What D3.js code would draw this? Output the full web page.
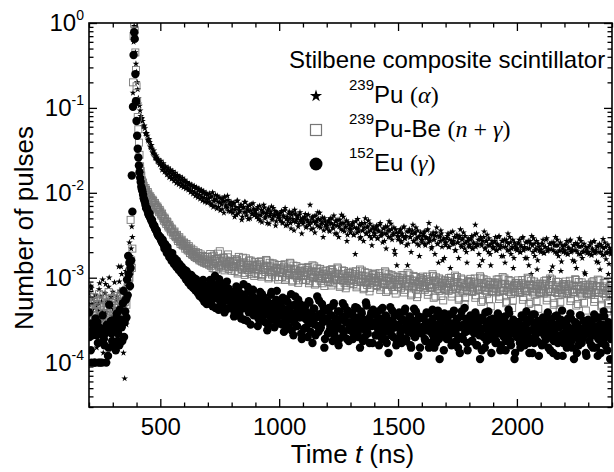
<!DOCTYPE html>
<html>
<head>
<meta charset="utf-8">
<script src="https://cdn.jsdelivr.net/npm/d3@7"></script>
<style>
    body { margin: 0; background: #fff; }
    svg text { font-family: "Liberation Sans", Arial, sans-serif; fill: #000; }
    .serif { font-family: "Liberation Serif", "Times New Roman", serif; }
</style>
</head>
<body>
<svg id="chart" width="614" height="472"></svg>
<script>
// number of pulses in units of 1e-4.
// 2.5 ns bins, kept as two interleaved arrays per source:
// bins starting at 200 ns ("A") and bins starting at 202.5 ns ("B")
const UNIT = 1e-4;
const timesA = d3.range(200, 2401, 5);
const timesB = d3.range(202.5, 2400, 5);

const puAlphaA = [
    6.5, 3.0, 7.5, 4.2, 5.0, 2.4, 4.6, 3.6, 5.0, 8.6, 6.0, 4.0, 1.3, 3.3, 8.4, 5.5, 3.0, 10, 4.5, 2.6,
    6.8, 3.8, 1.8, 5.4, 4.4, 13.5, 7.0, 13.5, 5.6, 1.3, 0.65, 12, 8.0, 14, 26, 18, 40, 1500, 9200, 4500,
    2650, 1650, 1120, 930, 740, 700, 600, 575, 495, 470, 410, 395, 340, 330, 290, 288, 255, 258, 232, 230,
    222, 205, 210, 193, 196, 178, 186, 168, 176, 158, 166, 150, 160, 143, 153, 138, 148, 132, 141, 126,
    136, 121, 130, 115, 124, 110, 120, 105, 116, 101, 112, 98, 107, 94, 103, 90, 99, 87, 96, 84,
    95, 79, 88, 72, 101, 80, 70, 84, 92, 68, 77, 86, 64, 79, 90, 71, 66, 82, 75, 60,
    70, 58, 76, 63, 55, 81, 66, 60, 72, 52, 68, 78, 59, 64, 49, 71, 62, 57, 75, 54,
    61, 52, 68, 55, 47, 63, 58, 72, 50, 56, 44, 65, 53, 60, 48, 66, 55, 41, 59, 51,
    56, 47, 61, 44, 52, 66, 49, 42, 57, 50, 38, 59, 46, 63, 45, 53, 40, 55, 48, 33,
    43, 50, 56, 40, 47, 44, 72, 37, 52, 46, 34, 54, 41, 49, 58, 39, 45, 30, 50, 42,
    38, 45, 36, 50, 43, 39, 54, 33, 47, 41, 30, 48, 37, 44, 52, 35, 40, 27, 45, 38,
    34, 41, 45, 32, 19, 38, 49, 35, 29, 42, 36, 27, 44, 33, 39, 47, 31, 36, 24, 40,
    31, 37, 41, 29, 35, 44, 32, 26, 38, 33, 22, 40, 30, 36, 43, 28, 33, 21, 37, 14,
    28, 34, 37, 26, 31, 40, 29, 24, 14, 35, 30, 20, 36, 27, 33, 39, 25, 30, 18, 34,
    26, 31, 35, 24, 29, 37, 44, 27, 22, 32, 28, 19, 34, 25, 15, 30, 36, 23, 28, 17,
    24, 29, 33, 23, 13, 27, 35, 25, 21, 30, 26, 17, 31, 24, 28, 34, 22, 26, 15, 29,
    23, 28, 31, 22, 25, 42, 33, 24, 19, 28, 25, 16, 30, 22, 27, 32, 20, 24, 14, 27,
    22, 26, 30, 21, 24, 31, 23, 18, 27, 23, 15, 28, 21, 25, 30, 19, 23, 13, 26, 22,
    21, 25, 28, 20, 23, 30, 22, 17, 26, 22, 14, 27, 11, 24, 29, 18, 22, 12.5, 25, 21,
    20, 25, 28, 19.5, 23, 29, 21, 10, 25, 21.5, 13.5, 26, 20, 24, 28, 18, 21, 12, 24, 20,
    24, 19.5, 27, 19, 22, 28, 20.5, 16, 24, 21, 13, 25, 19, 23, 27, 17, 20.5, 11.5, 23, 19.5,
    23, 19, 26, 18.5, 21, 27, 20, 15.5, 23, 20, 12.5, 24, 18.5, 22, 26, 16.5, 20, 11, 22.5, 19,
    21
];
const puAlphaB = [
    4.8, 8.0, 2.9, 5.6, 3.4, 6.2, 1.5, 4.1, 7.3, 3.0, 5.2, 9.5, 2.2, 6.6, 3.9, 4.9, 7.8, 2.5, 5.9, 3.5,
    4.3, 8.8, 3.1, 6.0, 2.0, 9.0, 4.7, 11, 3.4, 7.4, 5.0, 2.8, 10.5, 6.2, 16, 22, 30, 6000, 7000, 3300,
    2000, 1300, 1060, 800, 760, 610, 620, 500, 505, 420, 430, 350, 365, 300, 315, 262, 275, 238, 248, 214,
    238, 186, 222, 176, 205, 164, 198, 152, 188, 146, 180, 138, 172, 130, 162, 126, 156, 120, 150, 116,
    142, 112, 134, 108, 128, 102, 124, 97, 120, 92, 116, 88, 112, 85, 108, 81, 104, 78, 100, 76,
    86, 98, 74, 91, 68, 83, 94, 65, 78, 88, 62, 73, 85, 58, 80, 69, 92, 61, 72, 78,
    64, 74, 52, 68, 80, 57, 62, 71, 48, 66, 59, 77, 54, 69, 61, 50, 73, 56, 65, 60,
    57, 64, 49, 70, 54, 45, 60, 67, 52, 58, 62, 43, 56, 69, 50, 54, 61, 46, 57, 53,
    50, 58, 45, 54, 62, 41, 52, 47, 60, 44, 55, 49, 36, 57, 48, 51, 43, 59, 46, 50,
    46, 52, 39, 48, 55, 42, 45, 50, 38, 53, 44, 47, 59, 40, 48, 43, 51, 36, 46, 41,
    41, 47, 35, 44, 50, 38, 42, 46, 33, 48, 40, 43, 55, 36, 44, 39, 47, 32, 42, 37,
    37, 43, 32, 39, 46, 34, 38, 42, 30, 44, 36, 39, 50, 33, 40, 35, 43, 29, 38, 34,
    33, 39, 29, 36, 42, 31, 34, 38, 27, 40, 33, 36, 46, 30, 37, 32, 39, 19, 34, 31,
    30, 36, 27, 33, 39, 29, 31, 35, 25, 37, 30, 33, 42, 27, 34, 29, 36, 24, 31, 28,
    28, 33, 25, 30, 36, 26, 29, 32, 23, 34, 28, 31, 39, 25, 31, 27, 33, 16, 29, 26,
    26, 31, 23, 28, 34, 25, 27, 30, 21, 32, 26, 29, 37, 23, 29, 25, 31, 20, 27, 24,
    24.5, 29, 22, 26, 32, 23, 25, 28, 14, 30, 24, 27, 35, 22, 27, 24, 29, 19, 25, 23,
    23, 27, 21, 25, 30, 22, 24, 27, 18, 28, 23, 26, 33, 21, 26, 22, 28, 17, 24, 22,
    22, 26, 20, 24, 29, 21, 23, 26, 17, 27, 22, 25, 31, 20, 25, 21, 27, 16, 23, 21,
    21.5, 25, 19.5, 23, 28, 20.5, 22, 25, 12, 26, 21, 24, 30, 19.5, 24, 20.5, 26, 15.5, 22, 20.5,
    21, 24.5, 19, 22.5, 27, 20, 21.5, 24, 15.5, 25.5, 20.5, 23.5, 29, 19, 23.5, 20, 25, 11, 21.5, 20,
    20, 24, 18.5, 22, 26.5, 19.5, 21, 23.5, 15, 25, 20, 23, 28.5, 18.5, 23, 19.5, 24.5, 14.5, 21, 19.5
];

const puBeA = [
    4.5, 6.0, 3.2, 4.0, 5.2, 2.8, 3.6, 4.8, 3.0, 5.5, 4.2, 3.4, 6.2, 3.8, 2.9, 4.6, 5.0, 3.3, 4.1, 5.8,
    3.6, 4.4, 2.7, 5.3, 3.9, 4.7, 3.1, 6.5, 4.3, 5.0, 3.5, 7.2, 6.0, 8.5, 10, 48, 13, 2000, 9800, 4500,
    1800, 780, 390, 205, 160, 126, 121, 106, 108, 94, 96, 85, 87, 78, 80, 71, 72, 65, 66, 59,
    60, 54, 53, 47, 49, 43, 45, 39, 40, 35, 37, 32, 35, 30, 32, 27, 30, 25, 28, 24,
    26, 22, 25, 21, 23.5, 19.5, 22, 18.5, 21, 17.5, 20, 17, 19.5, 16, 18.8, 15.5, 18, 15, 17.6, 14.6,
    17.5, 14.2, 19.0, 15.1, 13.0, 18.2, 15.9, 12.5, 16.8, 14.0, 20.5, 13.6, 15.4, 17.3, 12.2, 16.0, 14.6, 18.8, 13.3, 15.7,
    12.1, 14.8, 13.4, 16.5, 15.7, 11.2, 17.6, 13.9, 14.3, 12.4, 15.2, 10.8, 16.9, 13.0, 14.1, 11.7, 15.9, 12.8, 13.6, 10.5,
    11.4, 13.9, 12.2, 15.3, 14.6, 10.3, 11.0, 12.9, 12.5, 16.2, 13.8, 9.8, 15.0, 11.7, 10.9, 13.2, 14.4, 12.0, 12.7, 9.5,
    10.2, 12.6, 14.1, 11.3, 13.5, 9.4, 10.6, 11.9, 11.0, 15.0, 12.8, 9.0, 13.9, 10.8, 12.2, 10.0, 8.7, 11.5, 10.4, 13.2,
    9.5, 11.6, 10.5, 13.0, 12.4, 8.6, 9.8, 10.9, 14.0, 10.2, 8.3, 11.8, 12.9, 9.9, 11.2, 9.2, 10.6, 12.1, 8.0, 9.7,
    10.9, 9.0, 9.8, 12.3, 8.1, 11.7, 9.3, 10.3, 9.6, 13.2, 11.1, 7.8, 9.4, 12.2, 10.6, 8.7, 7.5, 10.0, 11.5, 9.2,
    8.6, 10.4, 11.8, 9.4, 11.1, 7.7, 8.9, 9.8, 12.5, 9.1, 10.6, 7.3, 11.6, 8.9, 8.2, 10.1, 6.9, 9.5, 8.7, 11.0,
    9.9, 11.2, 8.2, 8.9, 10.5, 7.2, 9.3, 8.4, 8.6, 11.9, 6.8, 10.1, 11.0, 8.5, 9.6, 7.8, 10.4, 9.0, 6.5, 8.3,
    7.8, 9.4, 8.4, 10.7, 10.0, 6.7, 7.9, 8.8, 11.4, 8.1, 9.6, 6.2, 8.0, 10.5, 9.1, 7.3, 5.9, 8.5, 7.7, 9.9,
    9.1, 10.3, 7.5, 8.0, 9.6, 6.3, 8.4, 7.6, 7.8, 11.0, 5.8, 9.3, 10.1, 7.7, 8.8, 7.0, 9.5, 8.1, 5.4, 7.3,
    7.2, 8.7, 7.7, 9.9, 9.2, 6.0, 7.3, 8.1, 10.6, 7.5, 8.9, 5.5, 7.4, 9.8, 8.5, 6.7, 4.9, 7.8, 7.0, 9.1,
    8.6, 9.7, 7.0, 7.5, 9.0, 5.8, 7.9, 7.2, 7.3, 10.4, 5.2, 8.7, 9.6, 7.2, 8.3, 6.5, 8.9, 7.6, 4.6, 6.9,
    6.9, 8.4, 7.4, 9.5, 8.8, 5.6, 7.0, 7.7, 10.2, 7.1, 8.5, 5.0, 7.1, 9.4, 8.1, 6.4, 4.4, 7.5, 6.8, 8.7,
    8.2, 9.3, 6.8, 7.2, 8.6, 5.5, 7.6, 6.9, 7.0, 10.0, 4.9, 8.3, 9.2, 6.9, 8.0, 6.3, 8.5, 7.3, 4.3, 6.6,
    6.7, 8.1, 7.1, 9.1, 8.5, 5.4, 6.8, 7.4, 9.8, 6.9, 8.2, 4.8, 6.8, 9.0, 7.8, 6.2, 4.2, 7.2, 6.5, 8.3,
    8.0, 9.0, 6.6, 7.0, 8.3, 5.3, 7.3, 6.7, 6.8, 9.6, 4.7, 8.0, 8.9, 6.7, 7.7, 6.1, 8.2, 7.1, 4.1, 6.4,
    6.5, 7.9, 6.9, 8.8, 8.2, 5.2, 6.6, 7.2, 9.5, 6.7, 7.9, 4.6, 6.6, 8.7, 7.6, 6.0, 4.0, 7.0, 6.3, 8.1,
    7.1
];
const puBeB = [
    3.7, 5.1, 4.4, 2.6, 5.9, 3.5, 4.9, 3.1, 6.4, 4.0, 3.3, 5.4, 4.6, 2.9, 5.0, 3.8, 6.8, 4.3, 3.0, 5.6,
    4.1, 5.7, 3.3, 6.1, 4.5, 3.7, 5.9, 4.0, 6.9, 3.4, 5.2, 4.8, 7.8, 9.2, 12, 16, 22, 7000, 8200, 2800,
    1200, 560, 280, 180, 140, 132, 112, 114, 99, 102, 90, 91, 82, 83, 75, 76, 68, 69, 62, 63,
    56, 57, 50, 51, 45, 46, 41, 42, 37, 38, 34, 34, 31, 31.5, 28.5, 29, 26.5, 27, 24.5, 25.5,
    23.5, 24, 22, 22.5, 20.5, 21, 19, 20, 18, 19, 17, 18, 16.5, 17.4, 15.8, 16.8, 15.2, 16.4, 14.8, 16.0,
    15.2, 16.4, 13.8, 17.8, 14.5, 12.8, 16.6, 15.0, 19.2, 13.5, 15.8, 14.2, 12.9, 16.9, 14.8, 13.6, 17.4, 12.7, 15.3, 14.0,
    13.7, 15.5, 12.0, 14.4, 16.3, 11.6, 13.2, 15.0, 12.7, 17.2, 13.5, 11.4, 14.7, 12.3, 16.0, 13.1, 11.0, 14.2, 12.5, 15.4,
    12.6, 14.2, 11.0, 13.4, 15.6, 10.7, 12.3, 13.9, 11.7, 15.9, 12.4, 10.2, 13.6, 11.5, 14.8, 12.1, 10.1, 13.0, 11.6, 14.1,
    11.6, 13.1, 10.2, 12.4, 14.4, 9.8, 11.4, 12.8, 10.8, 14.7, 11.5, 9.3, 12.6, 10.6, 13.7, 11.2, 9.3, 12.0, 10.7, 13.0,
    10.7, 12.2, 9.4, 11.5, 13.4, 9.1, 10.6, 11.9, 10.0, 13.6, 10.7, 8.6, 11.7, 9.8, 12.7, 10.4, 8.6, 11.1, 9.9, 12.1,
    10.1, 11.5, 8.9, 10.8, 12.6, 8.6, 10.0, 11.2, 9.4, 12.8, 10.1, 8.1, 11.0, 9.2, 12.0, 9.8, 8.1, 10.5, 9.3, 11.4,
    9.6, 10.9, 8.4, 10.3, 11.9, 8.1, 9.5, 10.6, 8.9, 12.1, 9.6, 7.6, 10.4, 8.7, 11.4, 9.3, 7.6, 9.9, 8.8, 10.8,
    9.1, 10.3, 8.0, 9.8, 11.3, 7.7, 9.0, 10.0, 8.4, 11.5, 9.1, 7.1, 9.9, 8.2, 10.8, 8.8, 7.1, 9.4, 8.3, 10.2,
    8.5, 9.8, 7.5, 9.2, 10.7, 7.2, 8.4, 9.5, 7.9, 10.9, 8.6, 6.5, 9.3, 7.7, 10.2, 8.3, 6.4, 8.9, 7.8, 9.7,
    8.2, 9.4, 7.2, 8.9, 10.3, 6.8, 8.1, 9.1, 7.6, 10.5, 8.3, 6.0, 9.0, 7.4, 9.8, 8.0, 6.1, 8.6, 7.5, 9.3,
    7.9, 9.1, 7.0, 8.6, 10.0, 6.5, 7.8, 8.8, 7.3, 10.2, 8.0, 5.7, 8.7, 7.1, 9.5, 7.7, 5.8, 8.3, 7.2, 9.0,
    7.8, 8.9, 6.8, 8.4, 9.8, 6.2, 7.7, 8.6, 7.2, 10.0, 7.8, 5.4, 8.5, 7.0, 9.3, 7.6, 5.6, 8.2, 7.0, 8.8,
    7.6, 8.7, 6.7, 8.2, 9.6, 6.0, 7.5, 8.4, 7.0, 9.8, 7.6, 5.2, 8.3, 6.8, 9.1, 7.4, 5.4, 8.0, 6.9, 8.6,
    7.5, 8.6, 6.6, 8.1, 9.4, 5.9, 7.4, 8.3, 6.9, 9.7, 7.5, 5.1, 8.2, 6.7, 9.0, 7.3, 5.3, 7.9, 6.8, 8.5,
    7.4, 8.5, 6.5, 8.0, 9.3, 5.8, 7.3, 8.2, 6.8, 9.5, 7.4, 5.0, 8.1, 6.6, 8.9, 7.2, 5.2, 7.8, 6.7, 8.4,
    7.3, 8.4, 6.4, 7.9, 9.2, 5.7, 7.2, 8.1, 6.7, 9.4, 7.3, 4.9, 8.0, 6.5, 8.8, 7.1, 5.1, 7.7, 6.6, 8.3,
    7.2, 8.3, 6.3, 7.8, 9.1, 5.6, 7.1, 8.0, 6.6, 9.3, 7.2, 4.8, 7.9, 6.4, 8.7, 7.0, 5.0, 7.6, 6.5, 8.2
];

const eu152A = [
    3.9, 2.3, 1.0, 2.1, 2.6, 1.0, 2.4, 3.0, 1.0, 2.2, 2.5, 1.0, 2.1, 1.6, 2.3, 2.8, 1.2, 4.8, 2.6, 2.2,
    3.1, 1.6, 2.7, 3.4, 1.8, 2.5, 4.2, 3.0, 1.8, 7.0, 3.0, 5.5, 9.5, 18, 15, 13, 160, 1030, 7800, 2500,
    700, 330, 210, 150, 118, 104, 86, 78, 66, 64, 56, 57, 49, 48, 42, 41, 37, 36, 32, 31,
    30, 27, 28, 24, 25, 21, 23, 19, 20, 17, 19.5, 16, 17, 14, 16, 13, 14.5, 12, 13.5, 11,
    12.5, 10.5, 12, 9.8, 11, 8.6, 10.8, 8.2, 10.0, 7.4, 9.6, 6.9, 9.0, 6.1, 8.5, 5.8, 9.4, 5.2, 7.8, 4.9,
    8.1, 5.2, 9.4, 6.6, 4.6, 7.3, 10.5, 5.8, 6.9, 4.2, 8.6, 6.1, 5.0, 7.8, 3.9, 6.4, 9.0, 5.4, 6.0, 4.5,
    6.2, 4.3, 3.5, 5.6, 7.9, 4.0, 5.1, 6.6, 3.3, 4.8, 8.4, 4.4, 5.7, 3.1, 6.9, 4.6, 2.8, 5.2, 7.2, 4.1,
    5.4, 3.6, 2.7, 4.7, 6.8, 3.4, 4.2, 5.9, 3.0, 4.5, 2.4, 5.1, 3.8, 6.3, 3.2, 4.9, 2.6, 4.0, 7.0, 3.5,
    4.6, 2.9, 3.6, 5.8, 2.3, 4.1, 3.1, 5.2, 2.6, 4.4, 6.4, 3.3, 2.1, 4.8, 3.8, 2.7, 5.5, 3.4, 4.0, 1.9,
    3.9, 2.5, 4.7, 3.2, 2.0, 5.3, 2.9, 3.6, 1.7, 4.3, 2.8, 3.4, 6.0, 2.3, 3.7, 2.6, 4.9, 3.0, 1.5, 4.1,
    3.3, 2.2, 4.4, 2.7, 3.6, 1.8, 5.0, 2.4, 3.1, 2.9, 1.6, 4.0, 2.5, 3.4, 2.1, 4.6, 3.0, 1.9, 3.8, 2.6,
    2.4, 3.7, 1.9, 3.1, 4.5, 2.6, 2.2, 3.4, 1.5, 4.0, 2.8, 3.2, 2.0, 5.1, 2.5, 3.0, 1.7, 3.6, 2.7, 4.2,
    3.0, 2.1, 3.8, 2.5, 1.6, 3.3, 2.9, 4.4, 2.3, 1.9, 3.5, 2.7, 1.3, 3.1, 2.4, 4.1, 2.0, 3.6, 2.6, 1.8,
    2.8, 3.9, 2.2, 1.7, 3.2, 2.5, 4.3, 1.9, 2.9, 2.3, 3.5, 1.5, 2.7, 3.1, 2.0, 4.0, 2.4, 1.2, 3.3, 2.6,
    2.2, 3.4, 2.7, 1.8, 3.9, 2.4, 1.5, 3.0, 2.5, 4.2, 2.0, 2.8, 1.7, 3.6, 2.3, 1.1, 3.2, 2.6, 2.1, 3.8,
    3.1, 1.9, 2.6, 3.7, 2.2, 1.6, 2.9, 4.1, 2.4, 1.8, 3.3, 2.7, 1.3, 3.5, 2.0, 2.8, 4.4, 2.3, 1.7, 3.0,
    2.5, 3.6, 1.8, 2.9, 2.2, 3.9, 1.6, 2.7, 3.2, 1.1, 2.4, 3.4, 2.0, 1.5, 3.0, 2.6, 4.0, 1.9, 2.8, 2.3,
    3.3, 2.1, 1.7, 2.8, 3.8, 2.4, 1.4, 3.1, 2.6, 2.0, 3.5, 1.8, 2.9, 4.2, 2.2, 1.6, 2.7, 3.2, 1.1, 2.5,
    2.0, 3.0, 2.6, 1.5, 3.6, 2.3, 1.9, 2.8, 4.0, 2.1, 1.7, 3.3, 2.4, 1.3, 2.9, 3.7, 2.2, 1.8, 2.7, 3.1,
    2.4, 1.6, 3.4, 2.1, 2.8, 1.9, 3.9, 2.5, 1.4, 3.0, 2.2, 1.8, 3.5, 2.6, 1.2, 2.9, 2.0, 3.2, 4.1, 1.7,
    2.7, 2.0, 1.5, 3.3, 2.3, 3.8, 1.8, 2.5, 1.1, 3.0, 2.1, 2.8, 1.6, 3.6, 2.4, 1.9, 3.1, 2.2, 1.3, 2.6,
    3.2, 1.8, 2.5, 2.9, 1.5, 3.7, 2.1, 2.6, 1.2, 3.4, 2.3, 1.7, 2.8, 4.0, 2.0, 2.4, 1.4, 3.0, 2.2, 1.9,
    2.5
];
const eu152B = [
    2.0, 1.4, 2.9, 2.3, 1.0, 3.3, 2.1, 1.7, 2.6, 1.0, 2.4, 3.6, 1.9, 2.2, 1.0, 2.7, 1.5, 2.3, 3.1, 1.8,
    2.4, 2.9, 1.4, 3.8, 2.2, 1.6, 3.2, 2.6, 5.0, 2.0, 4.0, 3.4, 6.2, 11, 8.0, 16, 60, 4200, 6500, 1200,
    470, 260, 175, 134, 110, 95, 82, 72, 66, 60, 54, 51, 47, 44, 41, 38, 36, 33, 31, 30,
    28, 26, 25, 22, 22, 19.5, 20, 17.5, 18, 15.8, 16.5, 14.5, 15, 13.4, 14, 12.3, 12.8, 11.4, 12, 10.6,
    11.3, 9.6, 10.6, 8.8, 10.0, 8.1, 9.5, 7.6, 8.9, 7.1, 8.4, 6.6, 8.0, 6.2, 7.6, 5.7, 7.2, 5.4, 6.9, 5.1,
    6.3, 7.7, 4.9, 8.8, 5.6, 6.9, 4.4, 7.9, 5.9, 9.6, 5.1, 6.7, 4.7, 8.2, 5.7, 6.2, 4.3, 7.4, 5.3, 6.5,
    5.0, 6.8, 3.9, 5.9, 4.6, 7.5, 3.7, 5.4, 4.3, 6.3, 3.2, 5.3, 4.7, 7.8, 3.9, 5.6, 4.4, 6.1, 3.6, 5.0,
    4.3, 5.7, 3.3, 5.0, 3.9, 6.4, 3.1, 4.6, 3.7, 5.3, 2.8, 4.4, 3.5, 6.8, 3.3, 4.8, 3.9, 5.5, 2.9, 4.2,
    3.7, 5.0, 2.8, 4.3, 3.4, 5.6, 2.5, 3.9, 3.2, 4.7, 2.4, 3.8, 3.0, 6.0, 2.7, 4.2, 3.5, 4.9, 2.2, 3.6,
    3.4, 4.5, 2.6, 3.9, 3.1, 5.1, 2.3, 3.5, 2.9, 4.3, 2.1, 3.5, 2.7, 5.4, 2.5, 3.8, 3.2, 4.4, 1.9, 3.3,
    3.1, 4.2, 2.4, 3.6, 2.9, 4.7, 2.1, 3.3, 2.7, 4.0, 1.9, 3.2, 2.5, 5.0, 2.3, 3.5, 3.0, 4.1, 1.8, 3.0,
    2.9, 3.9, 2.2, 3.4, 2.7, 4.4, 2.0, 3.1, 2.5, 3.8, 1.8, 3.0, 2.4, 4.7, 2.2, 3.3, 2.8, 3.9, 1.7, 2.9,
    2.8, 3.7, 2.1, 3.2, 2.6, 4.2, 1.9, 2.9, 2.4, 3.6, 1.7, 2.9, 2.3, 4.5, 2.1, 3.1, 2.6, 3.7, 1.6, 2.7,
    2.6, 3.5, 2.0, 3.1, 2.5, 4.0, 1.8, 2.8, 2.3, 3.4, 1.6, 2.7, 2.2, 4.3, 2.0, 3.0, 2.5, 3.5, 1.5, 2.6,
    2.5, 3.4, 1.9, 3.0, 2.4, 3.8, 1.7, 2.7, 2.2, 3.3, 1.5, 2.6, 2.1, 4.1, 1.9, 2.9, 2.4, 3.4, 1.4, 2.5,
    2.5, 3.3, 1.9, 2.9, 2.3, 3.7, 1.7, 2.6, 2.2, 3.2, 1.5, 2.6, 2.0, 4.0, 1.9, 2.8, 2.3, 3.3, 1.4, 2.4,
    2.4, 3.2, 1.8, 2.8, 2.3, 3.6, 1.6, 2.6, 2.1, 3.1, 1.4, 2.5, 2.0, 3.9, 1.8, 2.7, 2.3, 3.2, 1.3, 2.4,
    2.4, 3.1, 1.8, 2.8, 2.2, 3.5, 1.6, 2.5, 2.1, 3.0, 1.4, 2.4, 1.9, 3.8, 1.8, 2.7, 2.2, 3.1, 1.3, 2.3,
    2.3, 3.0, 1.7, 2.7, 2.2, 3.4, 1.6, 2.5, 2.0, 3.0, 1.3, 2.4, 1.9, 3.7, 1.7, 2.6, 2.2, 3.1, 1.2, 2.3,
    2.3, 3.0, 1.7, 2.6, 2.1, 3.4, 1.5, 2.4, 2.0, 2.9, 1.3, 2.3, 1.9, 3.6, 1.7, 2.6, 2.1, 3.0, 1.2, 2.2,
    2.2, 2.9, 1.7, 2.6, 2.1, 3.3, 1.5, 2.4, 2.0, 2.9, 1.3, 2.3, 1.8, 3.6, 1.7, 2.5, 2.1, 3.0, 1.2, 2.2,
    2.2, 2.9, 1.6, 2.5, 2.1, 3.3, 1.5, 2.4, 1.9, 2.8, 1.3, 2.3, 1.8, 3.5, 1.6, 2.5, 2.1, 2.9, 1.1, 2.2
];

const xTicks = [500, 1000, 1500, 2000];
const yTicks = [1, 1e-1, 1e-2, 1e-3, 1e-4];
const legendTitle = 'Stilbene composite scintillator';
// rich-text legend labels: [style, text]
const legendLabels = [
    [['sup', '239'], ['sans', 'Pu '], ['serif', '('], ['it', 'α'], ['serif', ')']],
    [['sup', '239'], ['sans', 'Pu-Be '], ['serif', '('], ['it', 'n'], ['serif', ' + '], ['it', 'γ'], ['serif', ')']],
    [['sup', '152'], ['sans', 'Eu '], ['serif', '('], ['it', 'γ'], ['serif', ')']],
];

const WIDTH = 614;
const HEIGHT = 472;
const MARGIN = { top: 23, right: 2, bottom: 65, left: 89 };
const LEFT = MARGIN.left;
const RIGHT = WIDTH - MARGIN.right;
const TOP = MARGIN.top;
const BOTTOM = HEIGHT - MARGIN.bottom;

const svg = d3.select('#chart');

const xCoord = d3.scaleLinear().domain([200, 2400]).range([LEFT, RIGHT]);
const yCoord = d3.scaleLog().domain([3e-5, 1]).range([BOTTOM, TOP]);

const merge = (a, b) => [...d3.zip(timesA, a), ...d3.zip(timesB, b)];
const puAlpha = merge(puAlphaA, puAlphaB);
const puBe = merge(puBeA, puBeB);
const eu152 = merge(eu152A, eu152B);

const xMinor = d3.range(200, 2401, 100).filter(v => v % 500 !== 0);
const yMinor = [];
[-5, -4, -3, -2, -1].forEach(p => {
    for (let k = 2; k <= 9; k++) {
        const v = k * Math.pow(10, p);
        if (v >= 3e-5 && v <= 1) yMinor.push(v);
    }
});

svg.append('defs')
    .append('clipPath')
    .attr('id', 'plot-clip')
    .append('rect')
    .attr('x', LEFT)
    .attr('y', TOP)
    .attr('width', RIGHT - LEFT)
    .attr('height', BOTTOM - TOP);

// data
const plot = svg.append('g').attr('clip-path', 'url(#plot-clip)');
const starPath = d3.symbol().type(d3.symbolStar).size(14)();

plot.append('g')
    .selectAll('path')
    .data(puAlpha)
    .join('path')
    .attr('d', starPath)
    .attr('transform', d => `translate(${xCoord(d[0])},${yCoord(d[1] * UNIT)})`)
    .attr('fill', '#000');

plot.append('g')
    .selectAll('rect')
    .data(puBe)
    .join('rect')
    .attr('x', d => xCoord(d[0]) - 3.5)
    .attr('y', d => yCoord(d[1] * UNIT) - 3.5)
    .attr('width', 7)
    .attr('height', 7)
    .attr('fill', 'none')
    .attr('stroke', '#7a7a7a')
    .attr('stroke-width', 0.9);

plot.append('g')
    .selectAll('circle')
    .data(eu152)
    .join('circle')
    .attr('cx', d => xCoord(d[0]))
    .attr('cy', d => yCoord(d[1] * UNIT))
    .attr('r', 4.2)
    .attr('fill', '#000');

// axes, ticks pointing inwards on all four sides
const styleAxis = g => {
    g.select('.domain').remove();
    g.selectAll('line').attr('stroke', '#000').attr('stroke-width', 1.3);
};

svg.append('g')
    .attr('transform', `translate(0, ${BOTTOM})`)
    .call(d3.axisBottom(xCoord).tickValues(xTicks).tickFormat(d3.format('d'))
        .tickSize(-8).tickPadding(11).tickSizeOuter(0))
    .call(styleAxis)
    .selectAll('text')
    .attr('font-size', 24);

svg.append('g')
    .attr('transform', `translate(0, ${BOTTOM})`)
    .call(d3.axisBottom(xCoord).tickValues(xMinor).tickSize(-4.5).tickFormat('').tickSizeOuter(0))
    .call(styleAxis);

svg.append('g')
    .attr('transform', `translate(0, ${TOP})`)
    .call(d3.axisTop(xCoord).tickValues(xTicks).tickSize(-8).tickFormat('').tickSizeOuter(0))
    .call(styleAxis);

svg.append('g')
    .attr('transform', `translate(0, ${TOP})`)
    .call(d3.axisTop(xCoord).tickValues(xMinor).tickSize(-4.5).tickFormat('').tickSizeOuter(0))
    .call(styleAxis);

svg.append('g')
    .attr('transform', `translate(${LEFT}, 0)`)
    .call(d3.axisLeft(yCoord).tickValues(yTicks).tickSize(-8).tickPadding(5).tickSizeOuter(0))
    .call(styleAxis)
    .selectAll('text')
    .attr('font-size', 24)
    .each(function (d) {
        const t = d3.select(this).text(null);
        t.append('tspan').text('10');
        t.append('tspan').attr('dy', -11).attr('font-size', 14).text(Math.round(Math.log10(d)));
    });

svg.append('g')
    .attr('transform', `translate(${LEFT}, 0)`)
    .call(d3.axisLeft(yCoord).tickValues(yMinor).tickSize(-4.5).tickFormat('').tickSizeOuter(0))
    .call(styleAxis);

svg.append('g')
    .attr('transform', `translate(${RIGHT}, 0)`)
    .call(d3.axisRight(yCoord).tickValues(yTicks).tickSize(-8).tickFormat('').tickSizeOuter(0))
    .call(styleAxis);

svg.append('g')
    .attr('transform', `translate(${RIGHT}, 0)`)
    .call(d3.axisRight(yCoord).tickValues(yMinor).tickSize(-4.5).tickFormat('').tickSizeOuter(0))
    .call(styleAxis);

svg.append('rect')
    .attr('x', LEFT)
    .attr('y', TOP)
    .attr('width', RIGHT - LEFT)
    .attr('height', BOTTOM - TOP)
    .attr('fill', 'none')
    .attr('stroke', '#000')
    .attr('stroke-width', 1.6);

// axis titles
const xTitle = svg.append('text')
    .attr('x', (LEFT + RIGHT) / 2 + 2)
    .attr('y', 463)
    .attr('text-anchor', 'middle')
    .attr('font-size', 26);
xTitle.append('tspan').text('Time ');
xTitle.append('tspan').attr('font-style', 'italic').text('t');
xTitle.append('tspan').text(' (ns)');

svg.append('text')
    .attr('transform', 'translate(33, 228) rotate(-90)')
    .attr('text-anchor', 'middle')
    .attr('font-size', 26)
    .text('Number of pulses');

// legend
const legend = svg.append('g');
legend.append('text')
    .attr('x', 289)
    .attr('y', 68)
    .attr('font-size', 24)
    .text(legendTitle);

const rowY = [96, 130, 164];
const symX = 316;

legend.append('path')
    .attr('d', d3.symbol().type(d3.symbolStar).size(46)())
    .attr('transform', `translate(${symX}, ${rowY[0]})`)
    .attr('fill', '#000');

legend.append('rect')
    .attr('x', symX - 5.5)
    .attr('y', rowY[1] - 5.5)
    .attr('width', 11)
    .attr('height', 11)
    .attr('fill', 'none')
    .attr('stroke', '#777')
    .attr('stroke-width', 1.2);

legend.append('circle')
    .attr('cx', symX)
    .attr('cy', rowY[2])
    .attr('r', 6.5)
    .attr('fill', '#000');

legendLabels.forEach((parts, i) => {
    const t = legend.append('text')
        .attr('x', 349)
        .attr('y', rowY[i] + 7)
        .attr('font-size', 24);
    parts.forEach(([kind, str]) => {
        const span = t.append('tspan').text(str);
        if (kind === 'sup') {
            span.attr('font-size', 15).attr('dy', -13);
        } else if (kind === 'sans') {
            span.attr('dy', 13);
        } else if (kind === 'serif') {
            span.attr('class', 'serif');
        } else if (kind === 'it') {
            span.attr('class', 'serif').attr('font-style', 'italic');
        }
    });
});
</script>
</body>
</html>
